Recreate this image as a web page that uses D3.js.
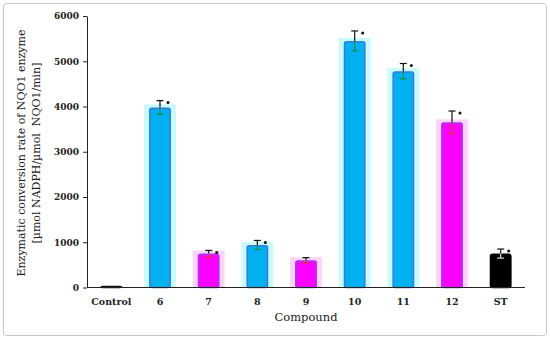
<!DOCTYPE html>
<html><head><meta charset="utf-8">
<script src="https://cdn.jsdelivr.net/npm/d3@7"></script>
<style>body{margin:0;background:#fff}svg{display:block}</style>
</head><body>
<script>
const categories = ["Control","6","7","8","9","10","11","12","ST"];
const values =     [40, 3980, 750, 940, 600, 5450, 4780, 3650, 750];
const errors =     [0, 150, 70, 100, 60, 220, 170, 250, 100];
const groups =     ["ctrl","blue","pink","blue","pink","blue","blue","pink","black"];
const significant =[false,true,true,true,false,true,true,true,true];
const yTicks = [0,1000,2000,3000,4000,5000,6000];

const W=550,H=339;
const svg=d3.select("body").append("svg").attr("width",W).attr("height",H);
svg.append("rect").attr("x",3.5).attr("y",3.5).attr("width",543).attr("height",332)
  .attr("rx",3).attr("fill","#fff").attr("stroke","#c8c8c8");

const x=d3.scaleBand().domain(categories).range([87,525]).paddingInner(0.55).paddingOuter(0.275);
const y=d3.scaleLinear().domain([0,6000]).range([287.5,16]);

const style={
  ctrl:{fill:"#111",stroke:"#111",halo:null,err:"#111"},
  blue:{fill:"#00b0f0",stroke:"#3d7ad6",halo:"#c8fbff",err:"#1f8a4c"},
  pink:{fill:"#ff00ff",stroke:"#9a3cf5",halo:"#ffd2ff",err:"#d83a3a"},
  black:{fill:"#000",stroke:"#000",halo:null,err:"#d8d8d8"}
};
const data=categories.map((c,i)=>({c,v:values[i],e:errors[i],g:groups[i],s:significant[i]}));

// halos
svg.selectAll("rect.halo").data(data.filter(d=>style[d.g].halo)).join("rect")
  .attr("x",d=>x(d.c)-5).attr("width",x.bandwidth()+10)
  .attr("y",d=>y(d.v)-3).attr("height",d=>y(0)-y(d.v)+3)
  .attr("fill",d=>style[d.g].halo);
// bars
svg.selectAll("rect.bar").data(data).join("rect")
  .attr("x",d=>x(d.c)+0.75).attr("width",x.bandwidth()-1.5)
  .attr("y",d=>y(d.v)+0.75).attr("height",d=>Math.max(0.5,y(0)-y(d.v)-0.75))
  .attr("rx",2)
  .attr("fill",d=>style[d.g].fill).attr("stroke",d=>style[d.g].stroke).attr("stroke-width",1.5);

// error bars
const eb=svg.selectAll("g.eb").data(data.filter(d=>d.e>0)).join("g")
  .attr("transform",d=>`translate(${x(d.c)+x.bandwidth()/2},0)`);
eb.append("line").attr("y1",d=>y(d.v)).attr("y2",d=>y(d.v+d.e)).attr("stroke","#111").attr("stroke-width",1.2);
eb.append("line").attr("y1",d=>y(d.v)).attr("y2",d=>y(d.v-d.e)).attr("stroke",d=>style[d.g].err).attr("stroke-width",1.2);
eb.append("line").attr("x1",-3.5).attr("x2",3.5).attr("y1",d=>y(d.v+d.e)).attr("y2",d=>y(d.v+d.e)).attr("stroke","#111").attr("stroke-width",1.2);
eb.append("line").attr("x1",-3.5).attr("x2",3.5).attr("y1",d=>y(d.v-d.e)).attr("y2",d=>y(d.v-d.e)).attr("stroke",d=>style[d.g].err).attr("stroke-width",1.2);
eb.filter(d=>d.s).append("circle").attr("cx",8).attr("cy",d=>y(d.v+d.e)+2).attr("r",1.5).attr("fill","#111");

// axes
const ya=svg.append("g").attr("transform","translate(87,0)")
  .call(d3.axisLeft(y).tickValues(yTicks).tickSize(4).tickSizeOuter(0).tickFormat(d3.format("d")));
ya.select(".domain").attr("stroke","#222");
ya.selectAll(".tick line").attr("stroke","#222");
ya.selectAll("text").attr("font-family","DejaVu Serif").attr("font-size",9).attr("font-weight","bold").attr("fill","#222").attr("x",-8);

const xa=svg.append("g").attr("transform","translate(0,287.5)")
  .call(d3.axisBottom(x).tickSize(0).tickPadding(11));
xa.select(".domain").attr("stroke","#222").attr("d","M87,0H525");
xa.selectAll("text").attr("font-family","DejaVu Serif").attr("font-size",9.5).attr("font-weight","bold").attr("fill","#222");

svg.append("text").attr("x",306).attr("y",321).attr("text-anchor","middle")
  .attr("font-family","DejaVu Serif").attr("font-size",11.5).attr("fill","#222").text("Compound");
const yl=svg.append("g").attr("transform","translate(0,153) rotate(-90)");
yl.append("text").attr("x",0).attr("y",25).attr("text-anchor","middle")
  .attr("font-family","DejaVu Serif").attr("font-size",11).attr("fill","#222").text("Enzymatic conversion rate of NQO1 enzyme");
yl.append("text").attr("x",0).attr("y",40).attr("text-anchor","middle")
  .attr("font-family","DejaVu Serif").attr("font-size",11).attr("fill","#222").attr("xml:space","preserve").style("white-space","pre").text("[µmol NADPH/µmol  NQO1/min]");
</script>
</body></html>
